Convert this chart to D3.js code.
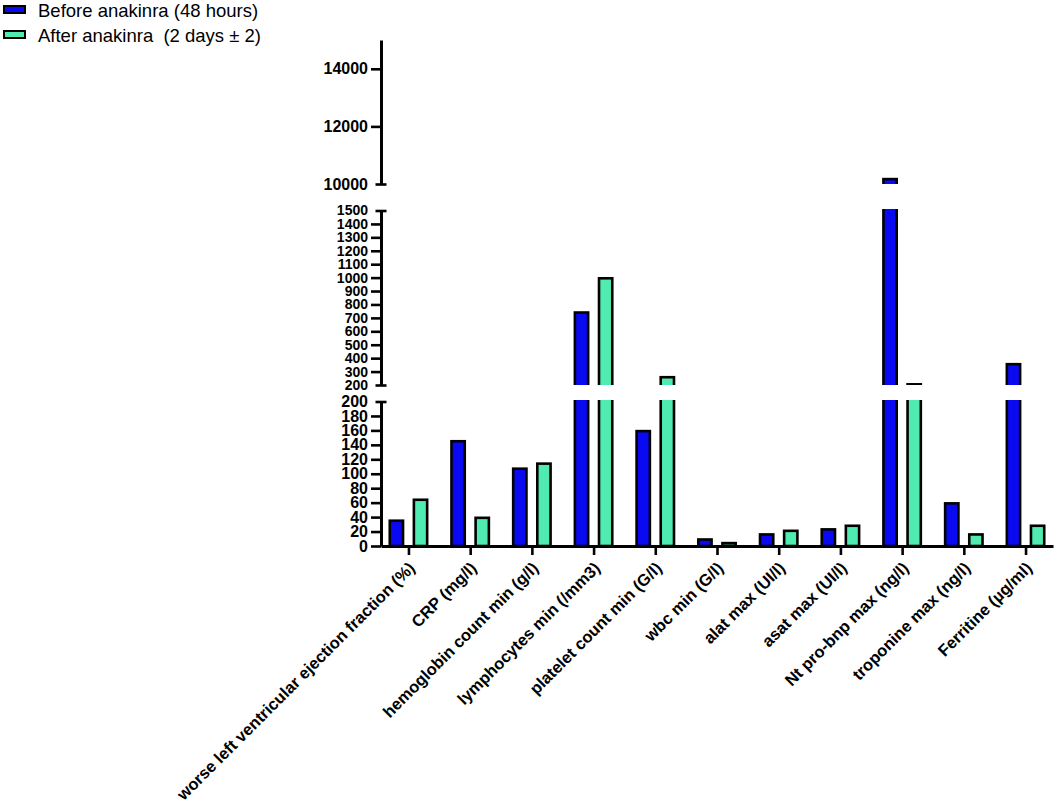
<!DOCTYPE html>
<html>
<head>
<meta charset="utf-8">
<script src="https://cdn.jsdelivr.net/npm/d3@7"></script>
<style>
  body { margin: 0; background: #fff; }
  svg { display: block; font-family: "Liberation Sans", Arial, sans-serif; }
</style>
</head>
<body>
<div class="canvas"></div>
<script>
const categories = [
  "worse left ventricular ejection fraction (%)",
  "CRP (mg/l)",
  "hemoglobin count min (g/l)",
  "lymphocytes min (/mm3)",
  "platelet count min (G/l)",
  "wbc min (G/l)",
  "alat max (UI/l)",
  "asat max (UI/l)",
  "Nt pro-bnp max (ng/l)",
  "troponine max (ng/l)",
  "Ferritine (µg/ml)",
];

const seriesNames = ["Before anakinra (48 hours)", "After anakinra  (2 days ± 2)"];
const before = [35, 145, 107, 740, 159, 9, 16, 23, 10170, 59, 355];
const after = [64, 39, 114, 995, 258, 4, 21, 28, 205, 16, 28];

// broken y axis: three pieces
const segDomains = [[0, 200], [200, 1500], [10000, 15000]];
const segTicks = [
  [0, 20, 40, 60, 80, 100, 120, 140, 160, 180, 200],
  [200, 300, 400, 500, 600, 700, 800, 900, 1000, 1100, 1200, 1300, 1400, 1500],
  [10000, 12000, 14000],
];

const colors = ["#0a0af2", "#50ebb0"];

const dims = { width: 1056, height: 808 };
const axisX = 381;
const segRanges = [[546, 401.5], [385, 210.5], [184, 40]];
const segFont = [16, 14, 16];

const svg = d3
  .select(".canvas")
  .append("svg")
  .attr("width", dims.width)
  .attr("height", dims.height);

const x = d3.scalePoint().domain(categories).range([axisX, 1053]).padding(0.445);

const x1 = d3
  .scaleBand()
  .domain(seriesNames)
  .range([-24, 24])
  .paddingInner(0.45)
  .paddingOuter(0.22);

const segScales = segDomains.map((dom, i) =>
  d3.scaleLinear().domain(dom).range(segRanges[i])
);

const data = categories.map((c, i) => ({ name: c, values: [before[i], after[i]] }));

const defs = svg.append("defs");

segScales.forEach((y, s) => {
  const [lo, hi] = segDomains[s];
  const top = y(hi) - 1.5;
  const bottom = s === 0 ? y(lo) + 2 : y(lo);

  defs
    .append("clipPath")
    .attr("id", `seg${s}`)
    .append("rect")
    .attr("x", 0)
    .attr("y", top)
    .attr("width", dims.width)
    .attr("height", bottom - top);

  const g = svg.append("g").attr("clip-path", `url(#seg${s})`);

  data.forEach((d) => {
    d.values.forEach((v, k) => {
      if (v <= lo) return;
      const yTop = v > hi ? y(hi) - 10 : y(v);
      const yBot = s === 0 ? y(lo) : y(lo) + 10;
      g.append("rect")
        .attr("x", x(d.name) + x1(seriesNames[k]))
        .attr("y", yTop)
        .attr("width", x1.bandwidth())
        .attr("height", yBot - yTop)
        .attr("fill", colors[k])
        .attr("stroke", "#000")
        .attr("stroke-width", 2.6);
    });
  });
});

// y axis pieces
segScales.forEach((y, s) => {
  const [lo, hi] = segDomains[s];
  const ax = svg
    .append("g")
    .attr("transform", `translate(${axisX}, 0)`)
    .call(
      d3
        .axisLeft(y)
        .tickValues(segTicks[s])
        .tickFormat(d3.format("d"))
        .tickSize(10)
        .tickSizeOuter(0)
        .tickPadding(3)
    );

  ax.select(".domain").attr("stroke-width", 3);
  ax.selectAll(".tick line")
    .attr("stroke-width", 2.6)
    .filter((d) => (d === lo && s > 0) || d === hi)
    .attr("x1", -5.5)
    .attr("x2", 5.5);
  ax.selectAll(".tick text")
    .attr("font-family", "Liberation Sans, Arial, sans-serif")
    .attr("font-size", segFont[s])
    .attr("font-weight", "bold")
    .attr("fill", "#000");
});

// x axis
const xAxis = svg
  .append("g")
  .attr("transform", `translate(0, ${segRanges[0][0]})`)
  .call(d3.axisBottom(x).tickSize(9).tickSizeOuter(0));

xAxis.select(".domain").attr("stroke-width", 3);
xAxis.selectAll(".tick line").attr("stroke-width", 2.6);
xAxis
  .selectAll(".tick text")
  .attr("font-family", "Liberation Sans, Arial, sans-serif")
  .attr("font-size", 16.5)
  .attr("font-weight", "bold")
  .attr("fill", "#000")
  .attr("text-anchor", "end")
  .attr("y", 0)
  .attr("dy", 0)
  .attr("transform", "translate(7, 23) rotate(-45)");

// legend
const legend = svg.append("g").attr("transform", "translate(3, 0)");

seriesNames.forEach((name, k) => {
  const row = legend.append("g").attr("transform", `translate(0, ${6 + k * 25})`);
  row
    .append("rect")
    .attr("x", 1)
    .attr("y", 0)
    .attr("width", 21)
    .attr("height", 7)
    .attr("fill", colors[k])
    .attr("stroke", "#000")
    .attr("stroke-width", 2);
  row
    .append("text")
    .attr("x", 35)
    .attr("y", 11)
    .attr("font-size", 18.5)
    .attr("fill", "#000")
    .style("white-space", "pre")
    .text(name);
});
</script>
</body>
</html>
